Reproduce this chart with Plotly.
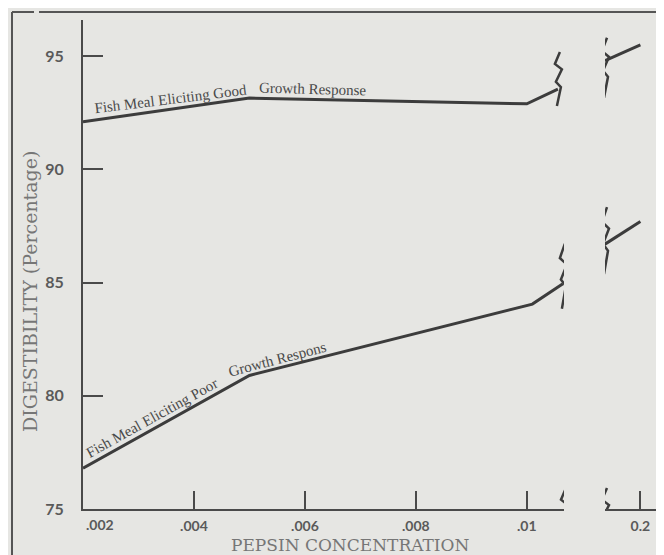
import numpy as np
import plotly.graph_objects as go

# ---- data ----
conc_good = [0.002, 0.005, 0.010, 0.01056]
good_vals = [92.1, 93.15, 92.9, 93.55]
conc_poor = [0.002, 0.005, 0.0101, 0.01065]
poor_vals = [76.8, 80.9, 84.05, 84.95]
conc_high = [0.17, 0.2]          # right segment, from the break edge to 0.2
good_high = [94.8, 95.5]
poor_high = [86.7, 87.7]

y_ticks = [75, 80, 85, 90, 95]
x_ticks = [0.004, 0.006, 0.008, 0.010]
x_ticktext = [".004", ".006", ".008", ".01"]
x2_ticks = [0.2]
x2_ticktext = ["0.2"]

BG = "#e6e6e3"
INK = "#3c3c3c"
AX = "#4a4a4a"
TXT = "#5a5a5a"

fig = go.Figure()
line = dict(color=INK, width=3)
fig.add_trace(go.Scatter(x=conc_good, y=good_vals, mode="lines", line=line, xaxis="x", yaxis="y", showlegend=False))
fig.add_trace(go.Scatter(x=conc_poor, y=poor_vals, mode="lines", line=line, xaxis="x", yaxis="y", showlegend=False))
fig.add_trace(go.Scatter(x=conc_high, y=good_high, mode="lines", line=line, xaxis="x2", yaxis="y", showlegend=False))
fig.add_trace(go.Scatter(x=conc_high, y=poor_high, mode="lines", line=line, xaxis="x2", yaxis="y", showlegend=False))

# the page body adds an 8px offset; the figure is sized to fill the rest of the window
OFF = 8
W, H = 664 - OFF, 555 - OFF
PL, PT, PB = 83, 20, 509          # plot-area edges in window pixels
L, T = PL - OFF, PT - OFF
B = H - (PB - OFF)
R = 0
pw = W - L - R
ph = H - T - B
d1 = (564 - PL) / pw
d2 = (605 - PL) / pw

tickfont = dict(family="Lato", size=14, color=TXT, weight="bold")
fig.update_layout(
    width=W, height=H,
    margin=dict(l=L, r=R, t=T, b=B, pad=0),
    paper_bgcolor=BG, plot_bgcolor=BG,
    xaxis=dict(domain=[0, d1], range=[0.002, 0.01067], showgrid=False, zeroline=False,
               showline=True, linecolor=AX, linewidth=2,
               tickmode="array", tickvals=x_ticks, ticktext=x_ticktext,
               ticks="inside", ticklen=18, tickwidth=2, tickcolor=AX,
               ticklabelstandoff=3, tickfont=tickfont, anchor="y"),
    xaxis2=dict(domain=[d2, 1], range=[0.17, 0.22], showgrid=False, zeroline=False,
                showline=True, linecolor=AX, linewidth=2,
                tickmode="array", tickvals=x2_ticks, ticktext=x2_ticktext,
                ticks="inside", ticklen=18, tickwidth=2, tickcolor=AX,
                ticklabelstandoff=3, tickfont=tickfont, anchor="y"),
    yaxis=dict(domain=[0, 1], range=[75, 96.6], showgrid=False, zeroline=False,
               showline=True, linecolor=AX, linewidth=2,
               tickmode="array", tickvals=y_ticks,
               ticks="inside", ticklen=20, tickwidth=2, tickcolor=AX,
               ticklabelstandoff=14, tickfont=dict(family="Lato", size=16, color=TXT, weight="bold"),
               anchor="x"),
)

# ---- text along the curves ----
serif = dict(family="Liberation Serif", size=15, color="#4a4a4a")
def label(text, xv, xs, ys, angle, xshift, yshift):
    yv = float(np.interp(xv, xs, ys))
    fig.add_annotation(x=xv, y=yv, xref="x", yref="y", text=text, showarrow=False,
                       textangle=angle, xshift=xshift, yshift=yshift, font=serif)

label("Fish Meal Eliciting Good", 0.00359, conc_good, good_vals, -7, -1, 10)
label("Growth Response", 0.00613, conc_good, good_vals, 1.5, 0, 10)
label("Fish Meal Eliciting Poor", 0.00333, conc_poor, poor_vals, -29, -5, 9)
label("Growth Respons", 0.00555, conc_poor, poor_vals, -14.6, -2, 9)

# first tick label sits to the right of the y axis
fig.add_annotation(x=0.002, y=0, xref="x", yref="paper", text=".002", showarrow=False,
                   xanchor="center", yanchor="top", xshift=17, yshift=-6, borderpad=0, font=tickfont)

# axis titles
fig.add_annotation(x=0, y=(PB - 292) / ph, xref="paper", yref="paper",
                   text="DIGESTIBILITY (Percentage)", showarrow=False, textangle=-90,
                   xanchor="center", yanchor="middle",
                   xshift=-(PL - 30), font=dict(family="DejaVu Serif", size=19, color="#767676"))
fig.add_annotation(x=(350 - PL) / pw, y=0, xref="paper", yref="paper",
                   text="PEPSIN CONCENTRATION", showarrow=False, xanchor="center", yanchor="middle",
                   yshift=-36, borderpad=0, font=dict(family="DejaVu Serif", size=17, color="#767676"))

# ---- break marks (pixel-sized double zig-zags anchored at the data / axis ends) ----
ZZ = [(0.0, 2), (0.22, -3), (0.32, 4), (0.55, -2), (0.65, 3), (1.0, -1)]
def zigzag(xref, xa, ya, up, down):
    total = up + down
    pts = [f"{dx},{up - f * total:.1f}" for f, dx in ZZ]
    path = "M " + " L ".join(pts)
    fig.add_shape(type="path", xref=xref, yref="y", xsizemode="pixel", ysizemode="pixel",
                  xanchor=xa, yanchor=ya, path=path, line=dict(color=INK, width=2.5))

zigzag("x", conc_good[-1], good_vals[-1], 37, 17)
zigzag("x", conc_poor[-1], poor_vals[-1], 40, 25)
zigzag("x2", conc_high[0], good_high[0], 23, 37)
zigzag("x2", conc_high[0], poor_high[0], 37, 30)
zigzag("x", 0.01067, 75, 21, 32)
zigzag("x2", 0.17, 75, 21, 32)

# ---- scanned page frame ----
fx = (12 - PL) / pw
fy = (PB - 12) / ph
fig.add_shape(type="line", xref="paper", yref="paper", x0=fx, x1=fx, y0=fy, y1=-0.2,
              line=dict(color="#555555", width=2))
fig.add_shape(type="line", xref="paper", yref="paper", x0=fx, x1=(34 - PL) / pw, y0=fy, y1=fy,
              line=dict(color="#555555", width=2))
fig.add_shape(type="line", xref="paper", yref="paper", x0=(39 - PL) / pw, x1=1.0, y0=fy, y1=fy,
              line=dict(color="#555555", width=2))

fig.write_html("out.html")
